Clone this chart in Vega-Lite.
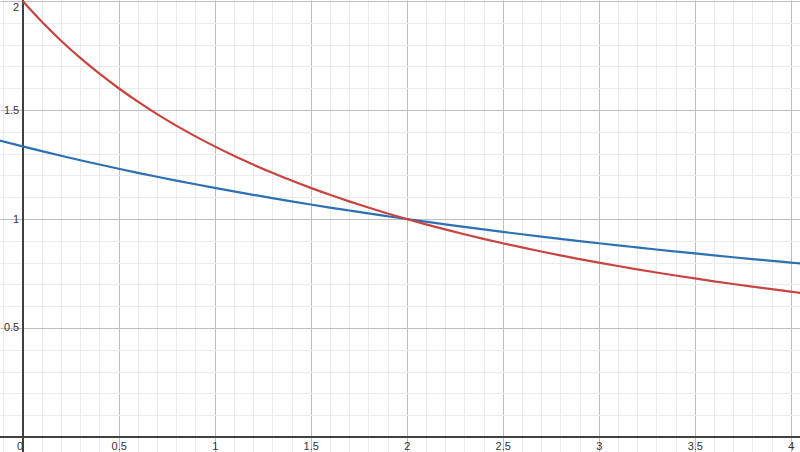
{
  "$schema": "https://vega.github.io/schema/vega-lite/v6.json",
  "width": 800,
  "height": 452,
  "autosize": "none",
  "padding": 0,
  "background": "white",
  "config": {"view": {"stroke": null}},
  "data": {
    "values": [
      {"x": -0.12, "blue": 1.3605},
      {"x": 0, "red": 2, "blue": 1.3333},
      {"x": 0.1, "red": 1.9048, "blue": 1.3115},
      {"x": 0.2, "red": 1.8182, "blue": 1.2903},
      {"x": 0.3, "red": 1.7391, "blue": 1.2698},
      {"x": 0.4, "red": 1.6667, "blue": 1.25},
      {"x": 0.5, "red": 1.6, "blue": 1.2308},
      {"x": 0.6, "red": 1.5385, "blue": 1.2121},
      {"x": 0.7, "red": 1.4815, "blue": 1.194},
      {"x": 0.8, "red": 1.4286, "blue": 1.1765},
      {"x": 0.9, "red": 1.3793, "blue": 1.1594},
      {"x": 1.0, "red": 1.3333, "blue": 1.1429},
      {"x": 1.1, "red": 1.2903, "blue": 1.1268},
      {"x": 1.2, "red": 1.25, "blue": 1.1111},
      {"x": 1.3, "red": 1.2121, "blue": 1.0959},
      {"x": 1.4, "red": 1.1765, "blue": 1.0811},
      {"x": 1.5, "red": 1.1429, "blue": 1.0667},
      {"x": 1.6, "red": 1.1111, "blue": 1.0526},
      {"x": 1.7, "red": 1.0811, "blue": 1.039},
      {"x": 1.8, "red": 1.0526, "blue": 1.0256},
      {"x": 1.9, "red": 1.0256, "blue": 1.0127},
      {"x": 2.0, "red": 1, "blue": 1},
      {"x": 2.1, "red": 0.9756, "blue": 0.9877},
      {"x": 2.2, "red": 0.9524, "blue": 0.9756},
      {"x": 2.3, "red": 0.9302, "blue": 0.9639},
      {"x": 2.4, "red": 0.9091, "blue": 0.9524},
      {"x": 2.5, "red": 0.8889, "blue": 0.9412},
      {"x": 2.6, "red": 0.8696, "blue": 0.9302},
      {"x": 2.7, "red": 0.8511, "blue": 0.9195},
      {"x": 2.8, "red": 0.8333, "blue": 0.9091},
      {"x": 2.9, "red": 0.8163, "blue": 0.8989},
      {"x": 3.0, "red": 0.8, "blue": 0.8889},
      {"x": 3.1, "red": 0.7843, "blue": 0.8791},
      {"x": 3.2, "red": 0.7692, "blue": 0.8696},
      {"x": 3.3, "red": 0.7547, "blue": 0.8602},
      {"x": 3.4, "red": 0.7407, "blue": 0.8511},
      {"x": 3.5, "red": 0.7273, "blue": 0.8421},
      {"x": 3.6, "red": 0.7143, "blue": 0.8333},
      {"x": 3.7, "red": 0.7018, "blue": 0.8247},
      {"x": 3.8, "red": 0.6897, "blue": 0.8163},
      {"x": 3.9, "red": 0.678, "blue": 0.8081},
      {"x": 4.0, "red": 0.6667, "blue": 0.8},
      {"x": 4.05, "red": 0.6612, "blue": 0.796}
    ]
  },
  "resolve": {"axis": {"x": "independent", "y": "independent"}},
  "layer": [
    {
      "mark": {"type": "rule", "color": "#404040", "strokeWidth": 1.3},
      "encoding": {
        "x": {
          "datum": 0,
          "type": "quantitative",
          "scale": {"domain": [-0.118, 4.048], "nice": false, "zero": false},
          "axis": {
            "orient": "bottom",
            "offset": -15,
            "values": [-0.1, 0.1, 0.2, 0.3, 0.4, 0.6, 0.7, 0.8, 0.9, 1.1, 1.2, 1.3, 1.4, 1.6, 1.7, 1.8, 1.9, 2.1, 2.2, 2.3, 2.4, 2.6, 2.7, 2.8, 2.9, 3.1, 3.2, 3.3, 3.4, 3.6, 3.7, 3.8, 3.9],
            "labels": false,
            "ticks": false,
            "domain": false,
            "grid": true,
            "gridColor": "#ebebeb",
            "gridWidth": 1,
            "title": null
          }
        }
      }
    },
    {
      "mark": {"type": "rule", "color": "#404040", "strokeWidth": 1.3},
      "encoding": {
        "y": {
          "datum": 0,
          "type": "quantitative",
          "scale": {"domain": [-0.069, 2.005], "nice": false, "zero": false},
          "axis": {
            "orient": "left",
            "offset": -22.7,
            "values": [0.1, 0.2, 0.3, 0.4, 0.6, 0.7, 0.8, 0.9, 1.1, 1.2, 1.3, 1.4, 1.6, 1.7, 1.8, 1.9],
            "labels": false,
            "ticks": false,
            "domain": false,
            "grid": true,
            "gridColor": "#ebebeb",
            "gridWidth": 1,
            "title": null
          }
        }
      }
    },
    {
      "mark": {"type": "line", "color": "#2d70b3", "strokeWidth": 2.2, "clip": true, "interpolate": "monotone"},
      "encoding": {
        "x": {
          "field": "x",
          "type": "quantitative",
          "scale": {"domain": [-0.118, 4.048], "nice": false, "zero": false},
          "axis": {
            "orient": "bottom",
            "offset": -15,
            "values": [0, 0.5, 1, 1.5, 2, 2.5, 3, 3.5, 4],
            "format": "~g",
            "ticks": false,
            "tickSize": 0,
            "domain": false,
            "grid": true,
            "gridColor": "#bdbdbd",
            "gridWidth": 1,
            "labelFont": "Liberation Sans",
            "labelFontSize": 11,
            "labelColor": "#333333",
            "labelPadding": 3,
            "labelFlush": false,
            "labelOverlap": false,
            "labelAlign": {"expr": "datum.value === 0 ? 'right' : 'center'"},
            "title": null
          }
        },
        "y": {
          "field": "blue",
          "type": "quantitative",
          "scale": {"domain": [-0.069, 2.005], "nice": false, "zero": false},
          "axis": {
            "orient": "left",
            "offset": -22.7,
            "values": [0, 0.5, 1, 1.5, 2],
            "format": "~g",
            "ticks": false,
            "tickSize": 0,
            "domain": false,
            "grid": true,
            "gridColor": "#bdbdbd",
            "gridWidth": 1,
            "labelFont": "Liberation Sans",
            "labelFontSize": 11,
            "labelColor": "#333333",
            "labelPadding": 4,
            "labelFlush": false,
            "labelOverlap": false,
            "labelExpr": "datum.value === 0 ? '' : datum.label",
            "labelBaseline": {"expr": "datum.value === 2 ? 'top' : 'middle'"},
            "title": null
          }
        }
      }
    },
    {
      "mark": {"type": "line", "color": "#c74440", "strokeWidth": 2.2, "clip": true, "interpolate": "monotone"},
      "encoding": {
        "x": {"field": "x", "type": "quantitative", "axis": null},
        "y": {"field": "red", "type": "quantitative", "axis": null}
      }
    }
  ]
}
